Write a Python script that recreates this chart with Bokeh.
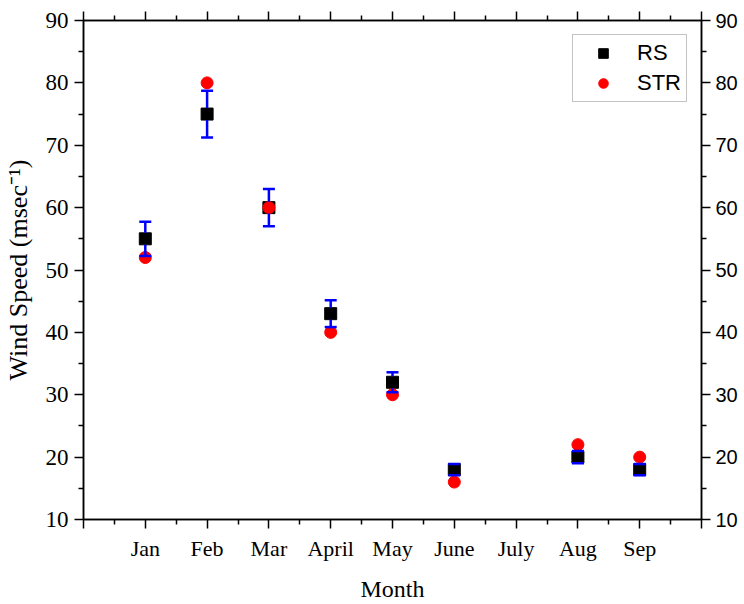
from bokeh.plotting import figure
from bokeh.models import (LinearAxis, FixedTicker, Range1d, Legend, LegendItem)
from bokeh.embed import file_html
from bokeh.resources import INLINE

months = ["Jan", "Feb", "Mar", "April", "May", "June", "July", "Aug", "Sep"]
rs_pos = [1, 2, 3, 4, 5, 6, 8, 9]
rs_vals = [55, 75, 60, 43, 32, 18, 20, 18]
rs_err = [2.75, 3.75, 3.0, 2.15, 1.6, 0.9, 1.0, 0.9]
str_pos = [1, 2, 3, 4, 5, 6, 8, 9]
str_vals = [52, 80, 60, 40, 30, 16, 22, 20]
y_ticks = [10, 20, 30, 40, 50, 60, 70, 80, 90]

p = figure(width=744, height=604, output_backend="svg", toolbar_location=None,
           x_range=Range1d(0, 10), y_range=Range1d(10, 90),
           min_border_left=83, min_border_right=43, min_border_top=20,
           min_border_bottom=84)
p.grid.visible = False
p.outline_line_color = "black"
p.outline_line_width = 1.5

x_major = list(range(0, 11))
x_minor = [i + 0.5 for i in range(10)]
y_minor = [t + 5 for t in y_ticks[:-1]]

p.xaxis.ticker = FixedTicker(ticks=x_major, minor_ticks=x_minor)
overrides = {i + 1: m for i, m in enumerate(months)}
overrides.update({0: "", 10: ""})
p.xaxis.major_label_overrides = overrides
p.yaxis.ticker = FixedTicker(ticks=y_ticks, minor_ticks=y_minor)

def style(ax, font, size):
    ax.axis_line_color = "black"
    ax.axis_line_width = 1.5
    ax.major_tick_line_color = "black"
    ax.minor_tick_line_color = "black"
    ax.major_tick_line_width = 1.5
    ax.minor_tick_line_width = 1.5
    ax.major_tick_in = 0
    ax.major_tick_out = 9
    ax.minor_tick_in = 0
    ax.minor_tick_out = 5
    ax.major_label_text_font = font
    ax.major_label_text_font_size = size
    ax.major_label_text_color = "black"

xb = p.xaxis[0]
yl = p.yaxis[0]
style(xb, "Liberation Serif", "22px")
style(yl, "Liberation Serif", "23px")
xb.major_label_standoff = 7
yl.major_label_standoff = 6
xb.axis_label = "Month"
yl.axis_label = "Wind Speed (msec\u207b\u00b9)"
xb.axis_label_text_font_size = "24px"
yl.axis_label_text_font_size = "26px"
for ax in (xb, yl):
    ax.axis_label_text_font = "Liberation Serif"
    ax.axis_label_text_font_style = "normal"
    ax.axis_label_text_color = "black"
xb.axis_label_standoff = 12
yl.axis_label_standoff = 10

top = LinearAxis(ticker=FixedTicker(ticks=x_major, minor_ticks=x_minor))
style(top, "Liberation Sans", "0px")
top.major_label_overrides = {i: "" for i in x_major}
p.add_layout(top, "above")

right = LinearAxis(ticker=FixedTicker(ticks=y_ticks, minor_ticks=y_minor))
style(right, "Liberation Sans", "20px")
right.major_label_standoff = 5
p.add_layout(right, "right")

# data glyphs
sq = p.scatter(rs_pos, rs_vals, marker="square", size=12, fill_color="black",
               line_color="black")
ci = p.scatter(str_pos, str_vals, marker="circle", size=12, fill_color="red",
               line_color="red")

# error bars with a gap at the symbol (as in the original)
gap = 0.96
up_x, up_y0, up_y1, lo_y0, lo_y1 = [], [], [], [], []
for x, y, e in zip(rs_pos, rs_vals, rs_err):
    if e > gap:
        up_x.append(x)
        up_y0.append(y + gap)
        up_y1.append(y + e)
        lo_y0.append(y - gap)
        lo_y1.append(y - e)
p.segment(x0=up_x, x1=up_x, y0=up_y0, y1=up_y1, line_color="blue", line_width=2.5)
p.segment(x0=up_x, x1=up_x, y0=lo_y0, y1=lo_y1, line_color="blue", line_width=2.5)
caps_x = rs_pos + rs_pos
caps_y = ([y + e for y, e in zip(rs_vals, rs_err)]
          + [y - e for y, e in zip(rs_vals, rs_err)])
p.scatter(caps_x, caps_y, marker="dash", size=12, line_color="blue", line_width=2.5)

legend = Legend(items=[LegendItem(label="RS", renderers=[sq]),
                       LegendItem(label="STR", renderers=[ci])],
                location="top_right")
legend.margin = 14
legend.padding = 5
legend.spacing = 4
legend.label_height = 24
legend.glyph_height = 24
legend.glyph_width = 50
legend.label_standoff = 9
legend.label_text_font = "Liberation Sans"
legend.label_text_font_size = "22px"
legend.label_text_color = "black"
legend.border_line_color = "#888888"
legend.border_line_width = 1.2
p.add_layout(legend, "center")

open("out.html", "w").write(file_html(p, INLINE))
